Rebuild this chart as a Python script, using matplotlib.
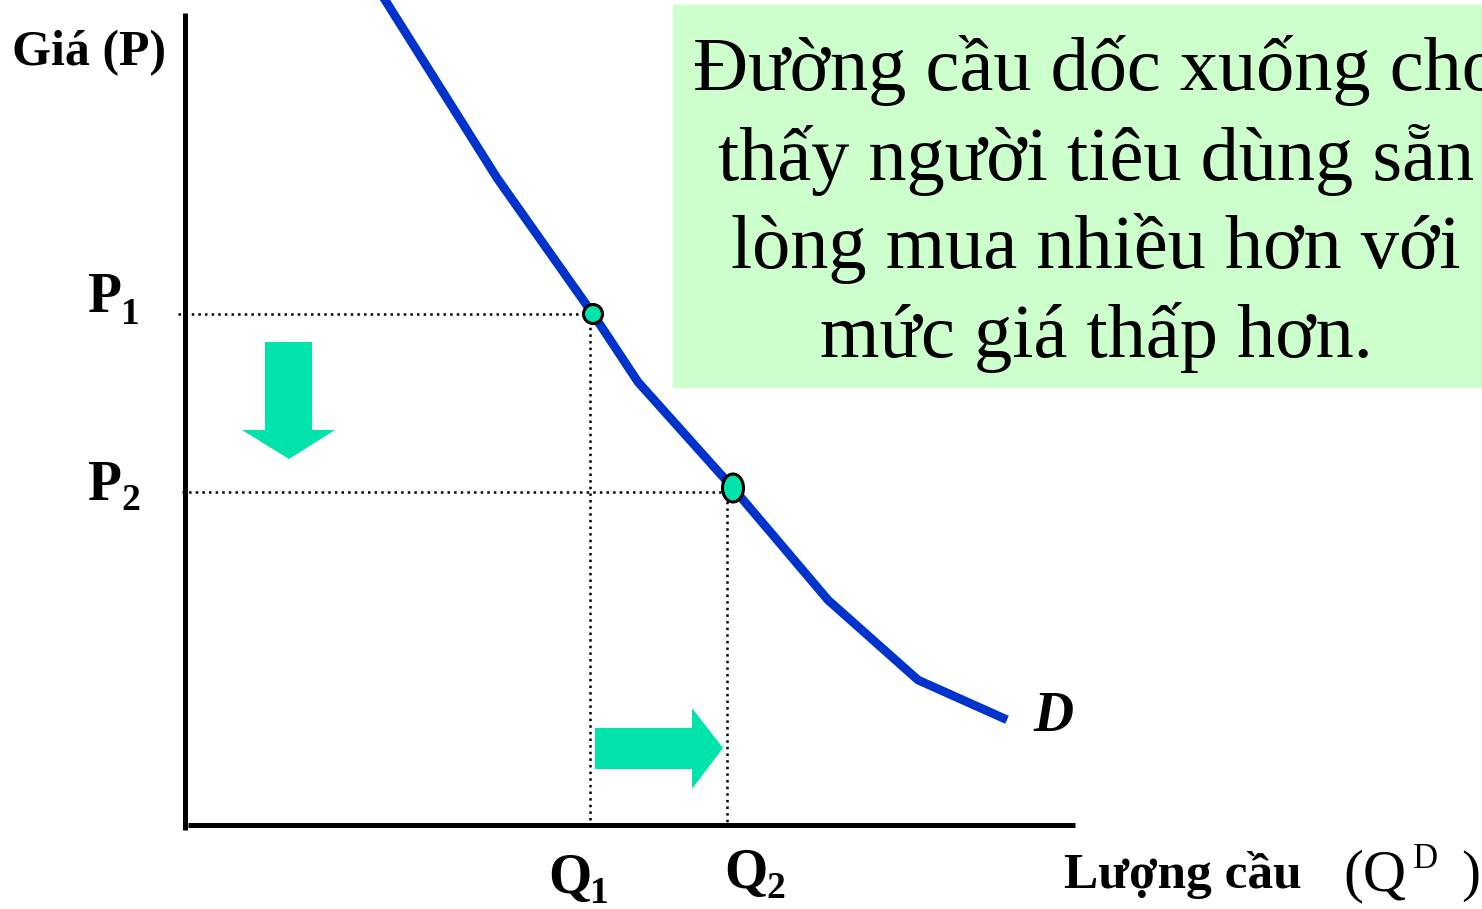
import numpy as np
import matplotlib.pyplot as plt
from matplotlib.patches import Polygon, Rectangle, Ellipse

plt.rcParams['font.family'] = ['Liberation Serif', 'DejaVu Serif']

# demand curve D (pixel space, y grows downward)
curve_q = [380, 497, 593, 638, 733, 828, 918, 1003]
curve_p = [-8, 178, 314, 382, 488, 600, 680, 718]

# the two marked points on the curve
pt_q = [593, 733]
pt_p = [314, 488]
guide_q = [590, 727]
guide_p = [314, 492]

box_lines = ['Đường cầu dốc xuống cho',
             'thấy người tiêu dùng sẵn',
             'lòng mua nhiều hơn với',
             'mức giá thấp hơn.']
box_base = [90, 180, 268, 357]

blue = '#0033CC'
mint = '#00E3AA'

fig = plt.figure(figsize=(14.82, 9.09), dpi=100)
ax = fig.add_axes([0, 0, 1, 1])
ax.set_xlim(0, 1482)
ax.set_ylim(909, 0)
ax.axis('off')

# green note box
ax.add_patch(Rectangle((673, 5), 830, 382, color='#CCFFCC', zorder=0))
for s, b in zip(box_lines, box_base):
    ax.text(1096, b, s, fontsize=55, ha='center', va='baseline', zorder=1)

# axes lines
ax.plot([185, 185], [13, 830], '-k', lw=3.6, solid_capstyle='butt')
ax.plot([188, 1075], [825, 825], '-k', lw=3.6, solid_capstyle='butt')

# dotted guides
ax.plot([178, pt_q[0]], [guide_p[0], guide_p[0]], ':k', lw=1.8)
ax.plot([182, pt_q[1]], [guide_p[1], guide_p[1]], ':k', lw=1.8)
ax.plot([guide_q[0], guide_q[0]], [pt_p[0], 825], ':k', lw=1.8)
ax.plot([guide_q[1], guide_q[1]], [pt_p[1], 825], ':k', lw=1.8)

# demand curve
ax.plot(curve_q, curve_p, '-', color=blue, lw=6.3, solid_joinstyle='miter', zorder=3)

ax.add_patch(Ellipse((pt_q[0], pt_p[0]), 19, 19, fc=mint, ec='k', lw=2.2, zorder=4))
ax.add_patch(Ellipse((pt_q[1], pt_p[1]), 21, 28, fc=mint, ec='k', lw=2.2, zorder=4))

# arrows
ax.add_patch(Polygon([(265, 342), (312, 342), (312, 430), (335, 430), (289, 459),
                      (242, 430), (265, 430)], closed=True, color=mint, lw=0))
ax.add_patch(Polygon([(595, 728), (692, 728), (692, 708), (723, 748), (692, 789),
                      (692, 769), (595, 769)], closed=True, color=mint, lw=0))

# labels
ax.text(12, 65, 'Giá (P)', fontsize=36, fontweight='bold', va='baseline')
ax.text(88, 312, 'P', fontsize=40, fontweight='bold', va='baseline')
ax.text(121, 324, '1', fontsize=27, fontweight='bold', va='baseline')
ax.text(88, 500, 'P', fontsize=40, fontweight='bold', va='baseline')
ax.text(121, 510, '2', fontsize=27, fontweight='bold', va='baseline')
ax.text(548, 893, 'Q', fontsize=40, fontweight='bold', va='baseline')
ax.text(590, 903, '1', fontsize=27, fontweight='bold', va='baseline')
ax.text(724, 888, 'Q', fontsize=40, fontweight='bold', va='baseline')
ax.text(766, 898, '2', fontsize=27, fontweight='bold', va='baseline')
ax.text(1033, 731, 'D', fontsize=40, fontweight='bold', style='italic', va='baseline')

ax.text(1064, 888, 'Lượng cầu', fontsize=37, fontweight='bold', va='baseline')
ax.text(1343, 890, '(Q', fontsize=43, va='baseline')
ax.text(1413, 868, 'D', fontsize=25, va='baseline')
ax.text(1461, 890, ')', fontsize=41, va='baseline')

plt.savefig('out.png', dpi=100)
